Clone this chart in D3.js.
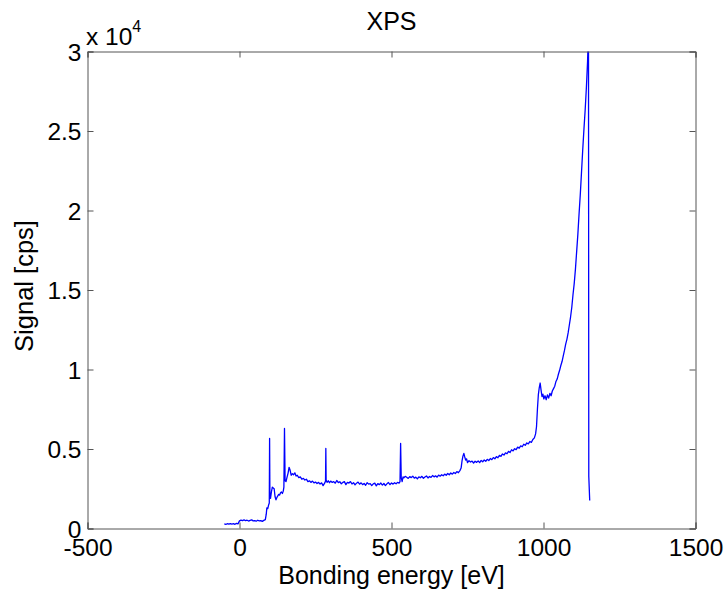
<!DOCTYPE html>
<html>
<head>
<meta charset="utf-8">
<script src="https://cdn.jsdelivr.net/npm/d3@7"></script>
<style>
  html, body { margin: 0; padding: 0; background: #fff; }
  svg text { font-family: "Liberation Sans", Arial, Helvetica, sans-serif; fill: #000; }
</style>
</head>
<body>
<svg id="chart" width="727" height="591"></svg>
<script>
// XPS survey spectrum: binding energy (eV) and detector signal (counts per second)
const energy = [
  -50, -45, -40, -35, -30, -25, -20, -15, -10, -5,
  0, 5, 10, 15, 20, 25, 30, 35, 40, 45, 50, 55, 60, 65, 70, 75, 80, 85,
  88, 90, 93, 96, 98, 99, 100, 102, 105, 108, 111, 114, 117, 120, 123, 126, 129, 132, 135, 138, 141, 144, 146, 148,
  150, 153, 156, 160, 163, 166, 170, 174, 178, 182, 186, 190, 195, 200, 205, 210, 215, 220, 225, 230, 235, 240,
  245, 250, 255, 260, 265, 270, 275, 280, 283, 284, 285, 288, 292, 296,
  300, 305, 310, 315, 320, 325, 330, 335, 340, 345, 350, 355, 360, 365, 370, 375, 380, 385, 390, 395,
  400, 405, 410, 415, 420, 425, 430, 435, 440, 445, 450, 455, 460, 465, 470, 475, 480, 485, 490, 495,
  500, 505, 510, 515, 520, 525, 528, 530, 532, 535, 538,
  540, 545, 550, 555, 560, 565, 570, 575, 580, 585, 590, 595, 600, 605, 610, 615, 620, 625, 630, 635,
  640, 645, 650, 655, 660, 665, 670, 675, 680, 685, 690, 695, 700, 705, 710, 715, 720, 725,
  729, 732, 735, 738, 741, 744, 747, 750, 755, 760, 765, 770, 775, 780, 785, 790, 795,
  800, 805, 810, 815, 820, 825, 830, 835, 840, 845, 850, 855, 860, 865, 870, 875, 880, 885, 890, 895,
  900, 905, 910, 915, 920, 925, 930, 935, 940, 945, 950, 955, 960, 965, 970, 974,
  977, 980, 983, 986, 989, 992, 995, 998, 1001, 1005, 1009, 1013, 1017, 1021, 1025, 1029, 1033, 1037,
  1041, 1045, 1049, 1053, 1057, 1061, 1065, 1069, 1073, 1077, 1081, 1085, 1089, 1093, 1097,
  1101, 1105, 1109, 1113, 1117, 1121, 1125, 1129, 1133, 1137, 1141, 1145, 1148, 1149, 1152
];
const signal = [
  290, 260, 300, 270, 310, 280, 300, 265, 320, 290,
  480, 530, 500, 540, 490, 520, 470, 510, 540, 480, 500, 460, 520, 480, 500, 450, 510, 560,
  900, 1300, 1250, 1500, 1600, 5660, 2200, 1900, 2300, 2600, 2550, 2500, 2000, 1800, 1950, 2050, 2150, 2100, 2250, 2300, 2200, 2350, 2600, 6290,
  3000, 2950, 3200, 3500, 3850, 3700, 3350, 3450, 3380, 3500, 3300, 3350, 3200, 3250, 3100, 3150, 3050, 3100, 2950, 3000, 2900, 2980,
  2870, 2920, 2830, 2900, 2800, 2870, 2700, 2850, 2980, 5030, 3050, 2900, 3000, 2880,
  2980, 2900, 2950, 2850, 3020, 2890, 2940, 2810, 2900, 2950, 2760, 2900, 2860, 2950, 2800, 2880, 2740, 2850, 2920, 2790,
  2870, 2760, 2830, 2720, 2880, 2790, 2820, 2700, 2810, 2850, 2680, 2820, 2760, 2860, 2730, 2830, 2700, 2810, 2890, 2760,
  2860, 2790, 2880, 2810, 2900, 2860, 2950, 5350, 3200, 2950, 3250,
  3180, 3280, 3220, 3150, 3260, 3200, 3290, 3170, 3230, 3120, 3250, 3190, 3280, 3160, 3240, 3300, 3180, 3270, 3220, 3330,
  3250, 3310, 3230, 3360, 3290, 3380, 3320, 3420, 3350, 3460, 3380, 3490, 3420, 3520, 3460, 3580, 3510, 3640,
  3800, 4250, 4550, 4720, 4500, 4300, 4380, 4150, 4260, 4180, 4240, 4120, 4230, 4160, 4250, 4140, 4280,
  4200, 4310, 4230, 4350, 4270, 4400, 4330, 4460, 4380, 4520, 4450, 4600, 4540, 4690, 4620, 4760, 4700, 4850, 4780, 4950,
  4880, 5020, 4960, 5120, 5050, 5200, 5140, 5300, 5230, 5380, 5320, 5470, 5420, 5600, 5700, 5950,
  6400, 7500, 8400, 8850, 9150, 8700, 8300, 8450, 8150, 8350, 8100, 8400, 8200, 8500, 8350, 8650, 8800, 8950,
  9250, 9400, 9700, 9950, 10250, 10500, 10850, 11200, 11600, 11900, 12300, 12800, 13300, 13900, 14700,
  15400, 16300, 17400, 18500, 19800, 21000, 22400, 23800, 25100, 26300, 27700, 29400, 31500, 3270, 1760
];

const xTicks = [-500, 0, 500, 1000, 1500];
const xTickLabels = ["-500", "0", "500", "1000", "1500"];
const yTicks = [0, 5000, 10000, 15000, 20000, 25000, 30000];
const yTickLabels = ["0", "0.5", "1", "1.5", "2", "2.5", "3"];

const titleText = "XPS";
const xLabelText = "Bonding energy [eV]";
const yLabelText = "Signal [cps]";

const plot = { left: 87.5, right: 695.5, top: 51.5, bottom: 528.5 };

const svg = d3.select("#chart");
svg.append("rect").attr("width", 727).attr("height", 591).attr("fill", "#fff");

const x = d3.scaleLinear().domain([-500, 1500]).range([plot.left, plot.right]);
const y = d3.scaleLinear().domain([0, 30000]).range([plot.bottom, plot.top]);

// clip the trace to the axes box
svg.append("defs").append("clipPath").attr("id", "plot-clip")
  .append("rect")
  .attr("x", plot.left).attr("y", plot.top)
  .attr("width", plot.right - plot.left).attr("height", plot.bottom - plot.top);

const points = energy.map((e, i) => [e, signal[i]]);
const line = d3.line().x(d => x(d[0])).y(d => y(d[1]));

svg.append("path")
  .datum(points)
  .attr("clip-path", "url(#plot-clip)")
  .attr("fill", "none")
  .attr("stroke", "#0000ff")
  .attr("stroke-width", 1.3)
  .attr("stroke-linejoin", "round")
  .attr("d", line);

// axes box and inward ticks on all four sides
const axisColor = "#555";
const tickLen = 6;
const fontTick = "24.5px";

const bottomAxis = d3.axisBottom(x).tickValues(xTicks).tickSize(-tickLen).tickPadding(10)
  .tickFormat((d, i) => xTickLabels[i]);
const topAxis = d3.axisTop(x).tickValues(xTicks).tickSize(-tickLen).tickFormat("");
const leftAxis = d3.axisLeft(y).tickValues(yTicks).tickSize(-tickLen).tickPadding(6)
  .tickFormat((d, i) => yTickLabels[i]);
const rightAxis = d3.axisRight(y).tickValues(yTicks).tickSize(-tickLen).tickFormat("");

function styleAxis(g) {
  g.select(".domain").attr("stroke", axisColor);
  g.selectAll(".tick line").attr("stroke", axisColor);
  g.selectAll(".tick text").attr("font-size", fontTick).attr("fill", "#000")
    .style("font-family", '"Liberation Sans", Arial, sans-serif');
}

svg.append("g").attr("transform", `translate(0,${plot.bottom})`).call(bottomAxis).call(styleAxis)
  .selectAll(".tick text").attr("dy", "0.71em");
svg.append("g").attr("transform", `translate(0,${plot.top})`).call(topAxis).call(styleAxis);
svg.append("g").attr("transform", `translate(${plot.left},0)`).call(leftAxis).call(styleAxis)
  .selectAll(".tick text").attr("dy", "0.35em");
svg.append("g").attr("transform", `translate(${plot.right},0)`).call(rightAxis).call(styleAxis);

// exponent marker above the y axis
const expo = svg.append("text")
  .attr("x", 86).attr("y", 45)
  .attr("font-size", "24.5px");
expo.append("tspan").text("x 10");
expo.append("tspan").attr("font-size", "16px").attr("dy", "-13").text("4");

// title
svg.append("text")
  .attr("x", (plot.left + plot.right) / 2).attr("y", 30)
  .attr("text-anchor", "middle")
  .attr("font-size", "25px")
  .text(titleText);

// axis labels
svg.append("text")
  .attr("x", (plot.left + plot.right) / 2).attr("y", 584)
  .attr("text-anchor", "middle")
  .attr("font-size", "25px")
  .text(xLabelText);

svg.append("text")
  .attr("transform", `translate(33,${(plot.top + plot.bottom) / 2 - 4}) rotate(-90)`)
  .attr("text-anchor", "middle")
  .attr("font-size", "25.5px")
  .text(yLabelText);
</script>
</body>
</html>
